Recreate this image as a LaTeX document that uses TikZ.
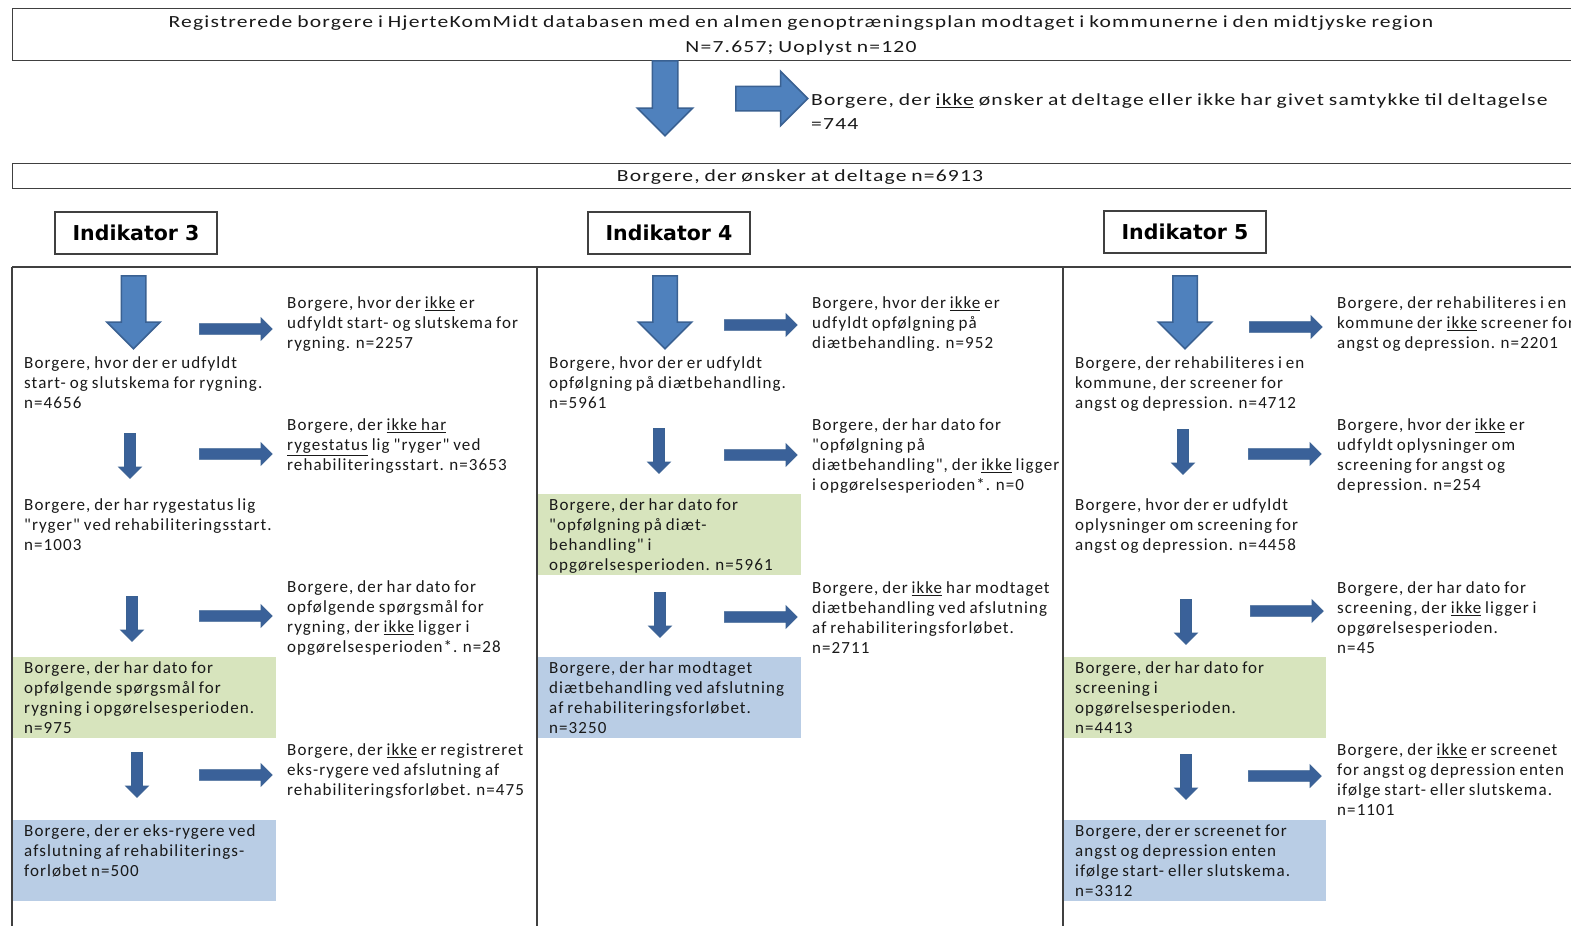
\documentclass[tikz,border=0pt]{standalone}
\usepackage{fontspec}
\newfontfamily\cb{Carlito}[LetterSpace=6.3,WordSpace=0.8]
\newfontfamily\cbw{Carlito}[LetterSpace=7,WordSpace=0.8,FakeStretch=1.27]
\newfontfamily\dvb{DejaVu Sans}
\usetikzlibrary{shapes.arrows}
\definecolor{arrfill}{HTML}{4F81BD}
\definecolor{arrdraw}{HTML}{3A6192}
\definecolor{arrdark}{HTML}{3A6199}
\definecolor{boxgreen}{HTML}{D7E4BD}
\definecolor{boxblue}{HTML}{B9CDE5}
\definecolor{frame}{HTML}{404040}
\begin{document}
\begin{tikzpicture}[x=1pt,y=-1pt,
  txt/.style={anchor=north west, inner sep=0pt, align=left, yshift=-1.5pt, font=\cb\fontsize{17}{20}\selectfont, text=black!90},
  bigtxt/.style={inner sep=0pt, align=center, font=\cbw\fontsize{17}{25}\selectfont, text=black!90},
  indbox/.style={draw=frame, line width=1.2pt, minimum width=162pt, minimum height=42pt, inner sep=0pt, font=\dvb\bfseries\fontsize{20.5}{24}\selectfont},
  colbox/.style={anchor=north west, inner sep=0pt, minimum width=263pt, minimum height=81pt},
  gbox/.style={colbox, fill=boxgreen},
  bbox/.style={colbox, fill=boxblue},
  frameline/.style={draw=frame, line width=1.2pt},
  bigdown/.style={single arrow, single arrow head indent=0pt, single arrow tip angle=90,
     single arrow head extend=14.5pt, inner sep=11.5pt, minimum height=73pt, rotate=-90, anchor=tail,
     fill=arrfill, draw=arrdraw, line width=1.5pt},
  smalldown/.style={single arrow, single arrow head indent=0pt, single arrow tip angle=90,
     single arrow head extend=6pt, inner sep=5pt, minimum height=45pt, rotate=-90, anchor=tail,
     fill=arrdark, draw=arrdraw, line width=0.8pt},
  rightarr/.style={single arrow, single arrow head indent=0pt, single arrow tip angle=90,
     single arrow head extend=6pt, inner sep=5pt, minimum height=73pt, anchor=tail,
     fill=arrdark, draw=arrdraw, line width=0.6pt}
]
\useasboundingbox (0,0) rectangle (1571,926);
\clip (0,0) rectangle (1571,926);
\fill[white] (0,0) rectangle (1571,926);

% top boxes
\node[frameline, draw, anchor=north west, minimum width=1578pt, minimum height=52pt, inner sep=0pt] (top) at (12,8) {};
\node[bigtxt] (toptxt) at (801,35.5) {Registrerede borgere i HjerteKomMidt databasen med en almen genoptræningsplan modtaget i kommunerne i den midtjyske region\\N=7.657; Uoplyst n=120};
\node[bigdown, single arrow head extend=15pt, inner sep=12pt, minimum height=75pt] (a0) at (665,60) {};
\node[bigdown, single arrow head extend=15pt, inner sep=11.5pt, minimum height=72pt, rotate=90] (a0r) at (735,98.5) {};
\node[txt, font=\cbw\fontsize{17}{24}\selectfont] (excl) at (811,92) {Borgere, der \underline{ikke} ønsker at deltage eller ikke har givet samtykke til deltagelse\\=744};
\node[frameline, draw, anchor=north west, minimum width=1578pt, minimum height=25pt, inner sep=0pt] (mid) at (12,163) {};
\node[bigtxt] (midtxt) at (800,177) {Borgere, der ønsker at deltage n=6913};

% indikator boxes
\node[indbox] (i3) at (136,233) {Indikator 3};
\node[indbox] (i4) at (669,233) {Indikator 4};
\node[indbox] (i5) at (1185,232) {Indikator 5};

% frame
\coordinate (f0) at (12,267);
\coordinate (f1) at (1575,267);
\coordinate (b0) at (12,930);
\coordinate (b1) at (537,930);
\coordinate (b2) at (1063,930);
\coordinate (t1) at (537,267);
\coordinate (t2) at (1063,267);
\draw[frameline] (f0) -- (f1);
\draw[frameline] (f0) -- (b0);
\draw[frameline] (t1) -- (b1);
\draw[frameline] (t2) -- (b2);

% colored boxes
\node[gbox] (g1) at (13,657) {};
\node[bbox] (u1) at (13,820) {};
\node[gbox] (g2) at (538,494) {};
\node[bbox] (u2) at (538,657) {};
\node[gbox, minimum width=262pt] (g3) at (1064,657) {};
\node[bbox, minimum width=262pt] (u3) at (1064,820) {};

% ---- column 1
\node[bigdown] (c1a1) at (133.5,275) {};
\node[rightarr] (c1r1) at (199,329) {};
\node[smalldown] (c1a2) at (130,433) {};
\node[rightarr] (c1r2) at (199,454) {};
\node[smalldown] (c1a3) at (132,596) {};
\node[rightarr] (c1r3) at (199,616) {};
\node[smalldown] (c1a4) at (137,752) {};
\node[rightarr] (c1r4) at (199,775) {};

\node[txt] (c1t1) at (287,295) {Borgere, hvor der \underline{ikke} er\\udfyldt start- og slutskema for\\rygning. n=2257};
\node[txt] (c1l1) at (24,355) {Borgere, hvor der er udfyldt\\start- og slutskema for rygning.\\n=4656};
\node[txt] (c1t2) at (287,417) {Borgere, der \underline{ikke har}\\\underline{rygestatus} lig "ryger" ved\\rehabiliteringsstart. n=3653};
\node[txt] (c1l2) at (24,497) {Borgere, der har rygestatus lig\\"ryger" ved rehabiliteringsstart.\\n=1003};
\node[txt] (c1t3) at (287,579) {Borgere, der har dato for\\opfølgende spørgsmål for\\rygning, der \underline{ikke} ligger i\\opgørelsesperioden*. n=28};
\node[txt] (c1g) at (24,660) {Borgere, der har dato for\\opfølgende spørgsmål for\\rygning i opgørelsesperioden.\\n=975};
\node[txt] (c1t4) at (287,742) {Borgere, der \underline{ikke} er registreret\\eks-rygere ved afslutning af\\rehabiliteringsforløbet. n=475};
\node[txt] (c1b) at (24,823) {Borgere, der er eks-rygere ved\\afslutning af rehabiliterings-\\forløbet n=500};

% ---- column 2
\node[bigdown] (c2a1) at (665,275) {};
\node[rightarr] (c2r1) at (724,325) {};
\node[smalldown] (c2a2) at (659,428) {};
\node[rightarr] (c2r2) at (724,455) {};
\node[smalldown] (c2a3) at (660,592) {};
\node[rightarr] (c2r3) at (724,617) {};

\node[txt] (c2t1) at (812,295) {Borgere, hvor der \underline{ikke} er\\udfyldt opfølgning på\\diætbehandling. n=952};
\node[txt] (c2l1) at (549,355) {Borgere, hvor der er udfyldt\\opfølgning på diætbehandling.\\n=5961};
\node[txt] (c2t2) at (812,417) {Borgere, der har dato for\\"opfølgning på\\diætbehandling", der \underline{ikke} ligger\\i opgørelsesperioden*. n=0};
\node[txt] (c2g) at (549,497) {Borgere, der har dato for\\"opfølgning på diæt-\\behandling" i\\opgørelsesperioden. n=5961};
\node[txt] (c2t3) at (812,580) {Borgere, der \underline{ikke} har modtaget\\diætbehandling ved afslutning\\af rehabiliteringsforløbet.\\n=2711};
\node[txt] (c2b) at (549,660) {Borgere, der har modtaget\\diætbehandling ved afslutning\\af rehabiliteringsforløbet.\\n=3250};

% ---- column 3
\node[bigdown] (c3a1) at (1185,275) {};
\node[rightarr] (c3r1) at (1249,327) {};
\node[smalldown] (c3a2) at (1183,429) {};
\node[rightarr] (c3r2) at (1248,454) {};
\node[smalldown] (c3a3) at (1186,599) {};
\node[rightarr] (c3r3) at (1250,611) {};
\node[smalldown] (c3a4) at (1186,754) {};
\node[rightarr] (c3r4) at (1248,776) {};

\node[txt] (c3t1) at (1337,295) {Borgere, der rehabiliteres i en\\kommune der \underline{ikke} screener for\\angst og depression. n=2201};
\node[txt] (c3l1) at (1075,355) {Borgere, der rehabiliteres i en\\kommune, der screener for\\angst og depression. n=4712};
\node[txt] (c3t2) at (1337,417) {Borgere, hvor der \underline{ikke} er\\udfyldt oplysninger om\\screening for angst og\\depression. n=254};
\node[txt] (c3l2) at (1075,497) {Borgere, hvor der er udfyldt\\oplysninger om screening for\\angst og depression. n=4458};
\node[txt] (c3t3) at (1337,580) {Borgere, der har dato for\\screening, der \underline{ikke} ligger i\\opgørelsesperioden.\\n=45};
\node[txt] (c3g) at (1075,660) {Borgere, der har dato for\\screening i\\opgørelsesperioden.\\n=4413};
\node[txt] (c3t4) at (1337,742) {Borgere, der \underline{ikke} er screenet\\for angst og depression enten\\ifølge start- eller slutskema.\\n=1101};
\node[txt] (c3b) at (1075,823) {Borgere, der er screenet for\\angst og depression enten\\ifølge start- eller slutskema.\\n=3312};
\end{tikzpicture}
\end{document}
